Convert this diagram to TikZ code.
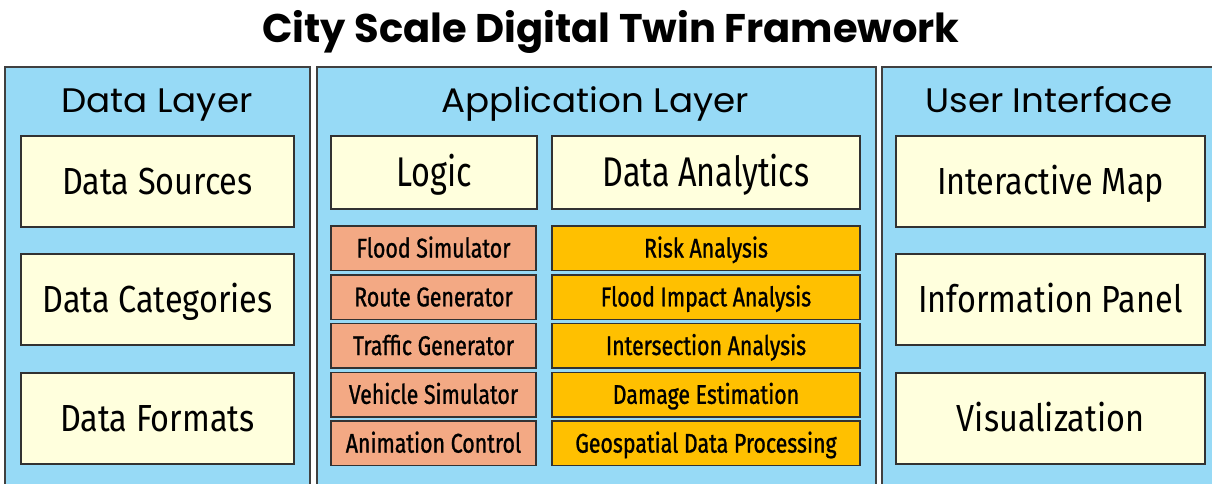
\documentclass[tikz,border=0pt]{standalone}
\usepackage{fontspec}
\setmainfont{Fira Sans}
\newfontfamily\titlefont{Poppins}
\newfontfamily\headfont[FakeStretch=1.05]{Poppins}
\newfontfamily\boxfont[FakeStretch=0.86]{Fira Sans}
\newfontfamily\topfont[FakeStretch=0.78]{Fira Sans}
\newfontfamily\smallfont[FakeStretch=0.79,FakeBold=1.0]{Fira Sans}
\definecolor{panelblue}{RGB}{151,218,246}
\definecolor{paleyellow}{RGB}{255,255,221}
\definecolor{salmonbox}{RGB}{243,169,132}
\definecolor{orangebox}{RGB}{255,192,0}
\definecolor{panelline}{RGB}{64,64,64}
\definecolor{boxline}{RGB}{50,50,50}
\begin{document}
\begin{tikzpicture}[x=1pt,y=-1pt,
  panel/.style={draw=panelline,line width=2pt,fill=panelblue,inner sep=0pt,anchor=north west},
  headtext/.style={anchor=base,inner sep=0pt,font=\headfont\fontsize{34}{37}\selectfont},
  box/.style={draw=boxline,line width=1.5pt,inner sep=0pt,text depth=0pt},
  bigbox/.style={box,fill=paleyellow,minimum height=91pt,text height=26pt,
    font=\boxfont\fontsize{37.7}{40}\selectfont},
  headbox/.style={box,fill=paleyellow,minimum height=73pt,text height=28.5pt,
    font=\topfont\fontsize{41.5}{44}\selectfont},
  smallbox/.style={box,text height=18.6pt,minimum height=44.5pt,
    font=\smallfont\fontsize{27}{29}\selectfont},
  logicbox/.style={smallbox,fill=salmonbox,minimum width=205pt},
  anabox/.style={smallbox,fill=orangebox,minimum width=308pt}
]
\useasboundingbox (0,0) rectangle (1212,483);
\clip (0,0) rectangle (1212,483);
\fill[white] (0,0) rectangle (1212,483);

\node[anchor=base,inner sep=0pt,font=\titlefont\bfseries\fontsize{40}{43}\selectfont] (title) at (611,42) {City Scale Digital Twin Framework};

% panels
\node[panel,minimum width=305pt,minimum height=440pt] (lp) at (4,66) {};
\node[panel,minimum width=559pt,minimum height=440pt] (mp) at (316,66) {};
\node[panel,minimum width=400pt,minimum height=440pt] (rp) at (881,66) {};

\node[headtext] (lh) at (157,112) {Data Layer};
\node[headtext] (mh) at (595,112) {Application Layer};
\node[headtext] (rh) at (1049,112) {User Interface};

% data layer
\node[bigbox,minimum width=273pt] (ds) at (157.5,181.5) {Data Sources};
\node[bigbox,minimum width=273pt] (dc) at (157.5,299.5) {Data Categories};
\node[bigbox,minimum width=273pt] (df) at (157.5,418.5) {Data Formats};

% user interface
\node[bigbox,minimum width=309pt] (im) at (1050.5,181.5) {Interactive Map};
\node[bigbox,minimum width=309pt] (ip) at (1050.5,299.5) {Information Panel};
\node[bigbox,minimum width=309pt] (vi) at (1050.5,418.5) {Visualization};

% application layer
\node[headbox,minimum width=206pt] (lg) at (434,172.5) {Logic};
\node[headbox,minimum width=308pt] (da) at (706,172.5) {Data Analytics};

\node[logicbox] (l1) at (433.5,248.2) {Flood Simulator};
\node[logicbox] (l2) at (433.5,297.0) {Route Generator};
\node[logicbox] (l3) at (433.5,345.7) {Traffic Generator};
\node[logicbox] (l4) at (433.5,394.5) {Vehicle Simulator};
\node[logicbox] (l5) at (433.5,443.3) {Animation Control};

\node[anabox] (a1) at (706,248.2) {Risk Analysis};
\node[anabox] (a2) at (706,297.0) {Flood Impact Analysis};
\node[anabox] (a3) at (706,345.7) {Intersection Analysis};
\node[anabox] (a4) at (706,394.5) {Damage Estimation};
\node[anabox] (a5) at (706,443.3) {Geospatial Data Processing};
\end{tikzpicture}
\end{document}
